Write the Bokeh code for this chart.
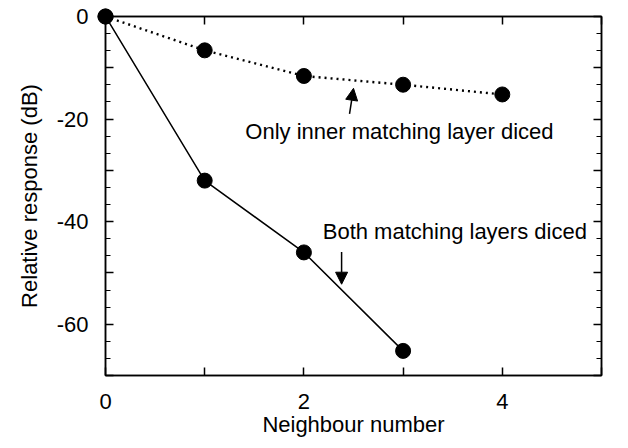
from bokeh.plotting import figure
from bokeh.models import (LinearAxis, FixedTicker, CustomJSTickFormatter, Label,
                          Arrow, NormalHead, Range1d)
from bokeh.embed import file_html
from bokeh.resources import INLINE

# ---- data ----
neighbour_inner = [0, 1, 2, 3, 4]
response_inner = [0, -6.6, -11.6, -13.3, -15.2]      # only inner matching layer diced

neighbour_both = [0, 1, 2, 3]
response_both = [0, -32.0, -46.0, -65.2]             # both matching layers diced

x_ticks = [0, 1, 2, 3, 4, 5]
x_labelled = [0, 2, 4]
y_ticks = [0, -10, -20, -30, -40, -50, -60, -70]
y_minor = [-10 * k / 3 for k in range(0, 22)]
y_labelled = [0, -20, -40, -60]

label_inner = "Only inner matching layer diced"
label_both = "Both matching layers diced"

FONT = "Liberation Sans"
FS = "22px"

p = figure(width=620, height=440,
           x_range=Range1d(0, 5), y_range=Range1d(-70, 0),
           output_backend="svg", toolbar_location=None,
           x_axis_label="Neighbour number",
           y_axis_label="Relative response (dB)",
           min_border_left=105, min_border_right=19,
           min_border_top=16, min_border_bottom=65)

p.background_fill_color = None
p.border_fill_color = "white"
p.outline_line_color = "black"
p.outline_line_width = 1.5
p.xgrid.visible = False
p.ygrid.visible = False

xfmt = CustomJSTickFormatter(args=dict(show=x_labelled),
                             code="return show.includes(tick) ? String(tick) : '';")
yfmt = CustomJSTickFormatter(args=dict(show=y_labelled),
                             code="return show.includes(tick) ? String(tick) : '';")
nofmt = CustomJSTickFormatter(code="return '';")


def style_axis(ax, ticker, fmt, labels=True):
    ax.level = "overlay"
    ax.ticker = ticker
    ax.formatter = fmt
    ax.axis_line_color = "black"
    ax.axis_line_width = 1.5
    ax.major_tick_line_color = "black"
    ax.major_tick_line_width = 1.5
    ax.minor_tick_line_color = "black"
    ax.minor_tick_line_width = 1.2
    ax.major_tick_in = 8
    ax.major_tick_out = 0
    ax.minor_tick_in = 5
    ax.minor_tick_out = 0
    ax.major_label_text_font = FONT
    ax.major_label_text_color = "black"
    ax.major_label_text_font_size = FS
    ax.axis_label_text_font = FONT
    ax.axis_label_text_font_style = "normal"
    ax.axis_label_text_color = "black"
    ax.axis_label_text_font_size = FS
    if not labels:
        ax.major_label_standoff = 0


xt = FixedTicker(ticks=x_ticks, minor_ticks=[])
yt = FixedTicker(ticks=y_ticks, minor_ticks=y_minor)

style_axis(p.xaxis[0], xt, xfmt)
p.xaxis[0].major_label_standoff = 18
p.xaxis[0].axis_label_standoff = 0

style_axis(p.yaxis[0], yt, yfmt)
p.yaxis[0].major_label_standoff = 17
p.yaxis[0].axis_label_standoff = 12

top = LinearAxis()
style_axis(top, FixedTicker(ticks=x_ticks, minor_ticks=[]), nofmt, labels=False)
p.add_layout(top, "above")

right = LinearAxis()
style_axis(right, FixedTicker(ticks=y_ticks, minor_ticks=y_minor), nofmt, labels=False)
p.add_layout(right, "right")

# ---- series ----
p.line(neighbour_inner, response_inner, line_color="black", line_width=2.4,
       line_dash="2 4")
r1 = p.scatter(neighbour_inner, response_inner, size=15, fill_color="black",
               line_color="black")
r1.level = "overlay"

p.line(neighbour_both, response_both, line_color="black", line_width=1.5)
r2 = p.scatter(neighbour_both, response_both, size=15, fill_color="black",
               line_color="black")
r2.level = "overlay"

# ---- annotations ----
p.add_layout(Label(x=1.41, y=-22.4, text=label_inner, text_font=FONT,
                   text_font_size=FS, text_color="black",
                   text_baseline="middle", text_align="left"))
p.add_layout(Label(x=2.19, y=-41.9, text=label_both, text_font=FONT,
                   text_font_size=FS, text_color="black",
                   text_baseline="middle", text_align="left"))

p.add_layout(Arrow(x_start=2.46, y_start=-19.0, x_end=2.5, y_end=-14.0,
                   line_color="black", line_width=1.5,
                   end=NormalHead(size=12, fill_color="black", line_color="black")))
p.add_layout(Arrow(x_start=2.38, y_start=-45.9, x_end=2.38, y_end=-52.2,
                   line_color="black", line_width=1.5,
                   end=NormalHead(size=12, fill_color="black", line_color="black")))

open("out.html", "w").write(file_html(p, INLINE))
